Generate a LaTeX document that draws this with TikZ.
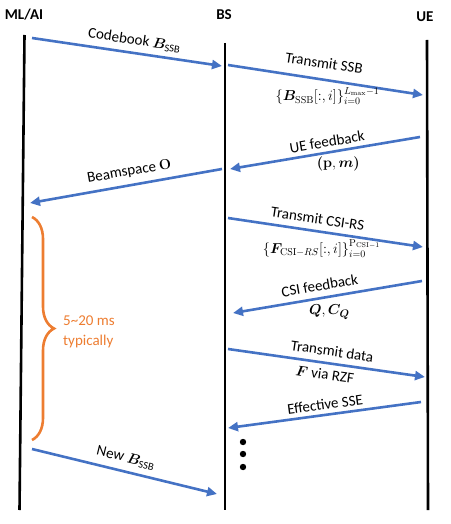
\documentclass[tikz,border=0pt]{standalone}
\usepackage{amsmath}
\usepackage{bm}
\usepackage[no-math]{fontspec}
\setmainfont{Carlito}
\usetikzlibrary{
  arrows.meta,
  decorations.pathreplacing,
  positioning,
}
\definecolor{msgblue}{HTML}{4472C4}
\definecolor{braceorange}{HTML}{ED7D31}
\tikzset{
  >={Triangle[length=10pt, width=9pt]},
  lifeline/.style={line width=2.6pt, black},
  msg/.style={->, line width=2.6pt, msgblue},
  backmsg/.style={<-, line width=2.6pt, msgblue},
  lbl/.style={text=black, font=\fontsize{15}{18}\selectfont, inner sep=1pt},
  setlbl/.style={text=black, font=\fontsize{14.4}{17}\selectfont, inner sep=1pt},
  head/.style={font=\fontsize{15}{18}\selectfont\bfseries},
}

\begin{document}
\begin{tikzpicture}[x=1pt, y=-1pt]
      \useasboundingbox (0, 0) rectangle (450, 524);

      % entities
      \node [head] (ml) at (24, 15) {ML/AI};
      \node [head] (bs) at (224, 15) {BS};
      \node [head] (ue) at (425, 17) {UE};

      \coordinate (mlTop) at (24.5, 35);
      \coordinate (mlBot) at (19.5, 510);
      \coordinate (bsTop) at (225, 43);
      \coordinate (bsBot) at (225, 510);
      \coordinate (ueTop) at (427, 40);
      \coordinate (ueBot) at (428, 510);
      \draw [lifeline] (mlTop) -- (mlBot);
      \draw [lifeline] (bsTop) -- (bsBot);
      \draw [lifeline] (ueTop) -- (ueBot);

      % message end points
      \coordinate (cbS) at (32, 38);    \coordinate (cbE) at (222, 66);
      \coordinate (ssbS) at (228, 65);  \coordinate (ssbE) at (423, 95);
      \coordinate (fbS) at (420, 137);  \coordinate (fbE) at (230, 169);
      \coordinate (bmS) at (222, 169);  \coordinate (bmE) at (30, 203);
      \coordinate (csiS) at (228, 218); \coordinate (csiE) at (423, 247);
      \coordinate (cfS) at (422, 281);  \coordinate (cfE) at (233, 313);
      \coordinate (dtS) at (228, 349);  \coordinate (dtE) at (425, 377);
      \coordinate (sseS) at (421, 402); \coordinate (sseE) at (228, 428);
      \coordinate (nbS) at (32, 449);   \coordinate (nbE) at (217, 494);

      \draw [msg] (cbS) -- (cbE)
        node [lbl, pos=0.53, sloped, above=4pt] {Codebook $\bm{B}_{\text{SSB}}$};
      \draw [msg] (ssbS) -- (ssbE)
        node [lbl, pos=0.48, sloped, above=9pt] {Transmit SSB}
        node [setlbl, pos=0.51, below=5pt] {$\{\bm{B}_{\mathrm{SSB}}[:,i]\}_{i=0}^{L_{\max}-1}$};
      \draw [backmsg] (fbE) -- (fbS)
        node [lbl, pos=0.52, sloped, above=3pt] {UE feedback}
        node [lbl, pos=0.57, below=4pt] {$\bm{(}\mathbf{p},\bm{m}\bm{)}$};
      \draw [backmsg] (bmE) -- (bmS)
        node [lbl, pos=0.53, sloped, above=5pt] {Beamspace $\mathbf{O}$};
      \draw [msg] (csiS) -- (csiE)
        node [lbl, pos=0.45, sloped, above=5pt] {Transmit CSI-RS}
        node [setlbl, pos=0.48, below=5pt] {$\{\bm{F}_{\mathrm{CSI}-RS}[:,i]\}_{i=0}^{\mathrm{P}_{\mathrm{CSI}-1}}$};
      \draw [backmsg] (cfE) -- (cfS)
        node [lbl, pos=0.47, sloped, above=5pt] {CSI feedback}
        node [lbl, pos=0.51, below=6pt] {$\bm{Q},\bm{C}_{\bm{Q}}$};
      \draw [msg] (dtS) -- (dtE)
        node [lbl, pos=0.52, sloped, above=5pt] {Transmit data}
        node [lbl, pos=0.50, sloped, below=4pt] {$\bm{F}$ via RZF};
      \draw [backmsg] (sseE) -- (sseS)
        node [lbl, pos=0.51, sloped, above=3pt] {Effective SSE};
      \draw [msg] (nbS) -- (nbE)
        node [lbl, pos=0.49, sloped, above=5pt] {New $\bm{B}_{\text{SSB}}$};

      \foreach \y in {442, 454, 467}
      {
        \fill (243, \y) circle (3.2pt);
      }

      % period brace
      \coordinate (brTop) at (32, 217);
      \coordinate (brBot) at (32, 440);
      \draw [braceorange, line width=2.6pt, decorate,
        decoration={brace, amplitude=22pt, aspect=0.5}] (brTop) -- (brBot);
      \node [lbl, text=braceorange, anchor=west, align=left,
        font=\fontsize{15}{20}\selectfont] (period) at (62, 332)
        {5\textasciitilde 20 ms\\typically};
    \end{tikzpicture}
\end{document}
